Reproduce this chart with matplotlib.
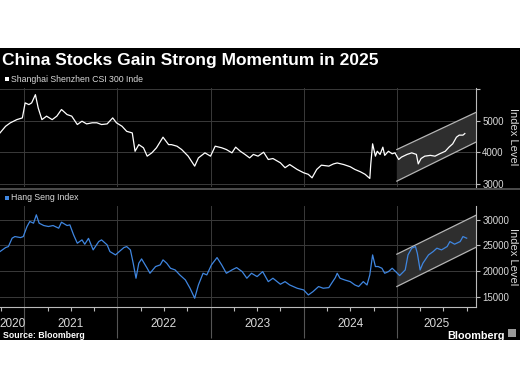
import matplotlib
matplotlib.use("Agg")
import matplotlib.pyplot as plt
from matplotlib.patches import Rectangle, Polygon
from matplotlib.lines import Line2D
from matplotlib.ticker import FixedLocator

plt.rcParams["font.family"] = ["Liberation Sans", "DejaVu Sans"]

# ---- data (decimal year, index level) ----
csi_t = [2020.74, 2020.80, 2020.85, 2020.92, 2020.98, 2021.01, 2021.05, 2021.08, 2021.12, 2021.15,
         2021.19, 2021.24, 2021.30, 2021.35, 2021.40, 2021.46, 2021.51, 2021.57, 2021.62, 2021.67,
         2021.73, 2021.78, 2021.83, 2021.89, 2021.95, 2021.99, 2022.05, 2022.10, 2022.16, 2022.19,
         2022.23, 2022.28, 2022.32, 2022.37, 2022.42, 2022.49, 2022.55, 2022.58, 2022.64, 2022.69,
         2022.76, 2022.83, 2022.87, 2022.94, 2023.00, 2023.05, 2023.12, 2023.17, 2023.23, 2023.27,
         2023.32, 2023.37, 2023.42, 2023.46, 2023.51, 2023.57, 2023.62, 2023.67, 2023.75, 2023.80,
         2023.85, 2023.93, 2024.00, 2024.05, 2024.09, 2024.14, 2024.19, 2024.27, 2024.32, 2024.36,
         2024.43, 2024.50, 2024.55, 2024.61, 2024.66, 2024.71, 2024.72, 2024.74, 2024.77, 2024.79,
         2024.82, 2024.85, 2024.87, 2024.91, 2024.95, 2024.98, 2025.02, 2025.05, 2025.11, 2025.16,
         2025.21, 2025.23, 2025.26, 2025.30, 2025.36, 2025.41, 2025.46, 2025.52, 2025.56, 2025.60,
         2025.64, 2025.67, 2025.71, 2025.73]
csi_v = [4610, 4820, 4927, 5030, 5085, 5560, 5505, 5560, 5820, 5400,
         5030, 5140, 5030, 5140, 5350, 5190, 5140, 4875, 4980, 4895,
         4930, 4930, 4875, 4895, 5085, 4930, 4820, 4660, 4610, 4030,
         4240, 4140, 3875, 3980, 4140, 4475, 4240, 4240, 4190, 4085,
         3875, 3560, 3820, 3980, 3875, 4190, 4140, 4085, 3980, 4160,
         4030, 3930, 3820, 3930, 3875, 4000, 3770, 3800, 3665, 3510,
         3610, 3455, 3350, 3300, 3190, 3455, 3590, 3560, 3630, 3660,
         3610, 3540, 3455, 3380, 3300, 3170, 3610, 4265, 3875, 4030,
         3930, 4160, 3900, 4030, 3950, 3980, 3770, 3845, 3930, 3980,
         3930, 3630, 3800, 3875, 3900, 3875, 3950, 4030, 4160, 4265,
         4475, 4540, 4540, 4590]

hsi_t = [2020.74, 2020.80, 2020.83, 2020.87, 2020.90, 2020.96, 2020.99, 2021.03, 2021.06, 2021.10,
         2021.13, 2021.16, 2021.21, 2021.26, 2021.31, 2021.37, 2021.40, 2021.46, 2021.49, 2021.53,
         2021.57, 2021.62, 2021.65, 2021.69, 2021.74, 2021.80, 2021.83, 2021.89, 2021.92, 2021.98,
         2022.02, 2022.07, 2022.10, 2022.14, 2022.17, 2022.20, 2022.23, 2022.26, 2022.32, 2022.35,
         2022.41, 2022.46, 2022.49, 2022.53, 2022.57, 2022.62, 2022.67, 2022.73, 2022.78, 2022.83,
         2022.87, 2022.92, 2022.96, 2023.01, 2023.07, 2023.12, 2023.17, 2023.23, 2023.28, 2023.34,
         2023.39, 2023.44, 2023.50, 2023.56, 2023.62, 2023.67, 2023.75, 2023.80, 2023.85, 2023.93,
         2024.00, 2024.05, 2024.10, 2024.16, 2024.21, 2024.27, 2024.30, 2024.34, 2024.36, 2024.39,
         2024.44, 2024.50, 2024.55, 2024.59, 2024.64, 2024.68, 2024.71, 2024.74, 2024.77, 2024.80,
         2024.84, 2024.87, 2024.91, 2024.95, 2024.98, 2025.03, 2025.09, 2025.12, 2025.16, 2025.20,
         2025.22, 2025.25, 2025.28, 2025.34, 2025.39, 2025.43, 2025.48, 2025.54, 2025.57, 2025.62,
         2025.68, 2025.71, 2025.75]
hsi_v = [23810, 24590, 24790, 26420, 26740, 26540, 26740, 28700, 29680, 29350,
         30980, 29350, 28890, 28700, 28890, 28370, 29540, 28890, 29020, 27070,
         25440, 26090, 25240, 26390, 24140, 25760, 26090, 25120, 23810, 23160,
         23810, 24590, 24790, 24140, 21540, 18610, 21540, 22380, 20560, 19580,
         20890, 21210, 22190, 21540, 20560, 20230, 19260, 18280, 16660, 14710,
         17300, 19580, 19260, 21210, 22640, 21210, 19580, 20230, 20690, 19900,
         18610, 19580, 18930, 19900, 17950, 18610, 17440, 17950, 17300, 16660,
         16330, 15350, 16000, 16990, 16660, 16780, 17630, 18730, 19580, 18610,
         18280, 17950, 17300, 16990, 17950, 17300, 19260, 23160, 20890, 20890,
         20560, 19580, 19900, 20560, 20040, 19130, 20230, 23160, 24470, 24790,
         23490, 20230, 21540, 23160, 23810, 24470, 24140, 24790, 25760, 25250,
         25760, 26740, 26420]

# trend channels for 2025
band_t = [2025.0, 2025.85]
csi_upper = [4085, 5260]
csi_lower = [3085, 4320]
hsi_upper = [23300, 30900]
hsi_lower = [16990, 24650]

csi_ticks = [3000, 4000, 5000, 6000]
hsi_ticks = [15000, 20000, 25000, 30000]
years = [2021, 2022, 2023, 2024, 2025]
year_labels = ["2020", "2021", "2022", "2023", "2024", "2025"]

x0, x1 = 2020.74, 2025.85
grid_c = "#3a3a3a"
txt_c = "#d9d9d9"
blue = "#3f86e0"

fig = plt.figure(figsize=(5.2, 3.9), dpi=100, facecolor="white")
fig.patches.append(Rectangle((0, 1 - 340 / 390), 1, (340 - 48) / 390,
                             transform=fig.transFigure, facecolor="black", zorder=-10))

ax1 = fig.add_axes([0, 1 - 187 / 390, 476 / 520, 99 / 390])
ax2 = fig.add_axes([0, 1 - 307 / 390, 476 / 520, 101 / 390])


def style(ax, ylim, ticks, labels):
    ax.set_facecolor("none")
    ax.set_xlim(x0, x1)
    ax.set_ylim(*ylim)
    for s in ["top", "left", "bottom"]:
        ax.spines[s].set_visible(False)
    ax.spines["right"].set_color("#bbbbbb")
    ax.spines["right"].set_linewidth(0.8)
    ax.yaxis.tick_right()
    ax.set_yticks(ticks)
    ax.set_yticklabels(labels)
    ax.tick_params(axis="y", colors="#bbbbbb", labelcolor=txt_c, labelsize=7,
                   length=3, width=0.8, pad=1.5)
    for v in ticks:
        ax.axhline(v, color=grid_c, lw=0.7, zorder=0)
    for yr in years:
        ax.axvline(yr, color=grid_c, lw=0.7, zorder=0)


# ---- top panel: CSI 300 ----
style(ax1, (2900, 6030), csi_ticks, ["3000", "4000", "5000", ""])
ax1.set_xticks([])
ax1.add_patch(Polygon([(band_t[0], csi_lower[0]), (band_t[1], csi_lower[1]),
                       (band_t[1], csi_upper[1]), (band_t[0], csi_upper[0])],
                      closed=True, facecolor="#2e2e2e", edgecolor="none", zorder=1))
ax1.plot(band_t, csi_upper, color="#b5b5b5", lw=0.9, zorder=2)
ax1.plot(band_t, csi_lower, color="#b5b5b5", lw=0.9, zorder=2)
ax1.plot(csi_t, csi_v, color="white", lw=0.9, zorder=3)

# ---- bottom panel: Hang Seng ----
style(ax2, (13000, 32700), hsi_ticks, [str(v) for v in hsi_ticks])
ax2.add_patch(Polygon([(band_t[0], hsi_lower[0]), (band_t[1], hsi_lower[1]),
                       (band_t[1], hsi_upper[1]), (band_t[0], hsi_upper[0])],
                      closed=True, facecolor="#2e2e2e", edgecolor="none", zorder=1))
ax2.plot(band_t, hsi_upper, color="#b5b5b5", lw=0.9, zorder=2)
ax2.plot(band_t, hsi_lower, color="#b5b5b5", lw=0.9, zorder=2)
ax2.plot(hsi_t, hsi_v, color=blue, lw=0.9, zorder=3)

ax2.spines["bottom"].set_visible(True)
ax2.spines["bottom"].set_color("#bbbbbb")
ax2.spines["bottom"].set_linewidth(0.8)
ax2.set_xticks(years)
ax2.set_xticklabels([])
ax2.tick_params(axis="x", which="major", colors="#555555", length=22, width=0.8)
quarters = [y + q for y in [2020] + years for q in (0.25, 0.5, 0.75)]
ax2.xaxis.set_minor_locator(FixedLocator([q for q in quarters if x0 < q < x1]))
ax2.tick_params(axis="x", which="minor", colors="#bbbbbb", length=3, width=0.8)

edges = [x0] + years + [x1]
for i, lab in enumerate(year_labels):
    xc = (edges[i] + edges[i + 1]) / 2
    ax2.text(xc, -0.17, lab, transform=ax2.get_xaxis_transform(), ha="center",
             va="center", color=txt_c, fontsize=8.5)

# ---- figure text ----
fig.text(2 / 520, 1 - 60 / 390, "China Stocks Gain Strong Momentum in 2025", color="white",
         fontsize=12.5, fontweight="bold", va="center", ha="left")
fig.patches.append(Rectangle((5 / 520, 1 - 81 / 390), 4 / 520, 4 / 390,
                             transform=fig.transFigure, facecolor="white"))
fig.text(11 / 520, 1 - 79 / 390, "Shanghai Shenzhen CSI 300 Inde", color=txt_c,
         fontsize=6.3, va="center", ha="left")
fig.patches.append(Rectangle((5 / 520, 1 - 200 / 390), 4 / 520, 4 / 390,
                             transform=fig.transFigure, facecolor=blue))
fig.text(11 / 520, 1 - 198 / 390, "Hang Seng Index", color=txt_c,
         fontsize=6.3, va="center", ha="left")
fig.lines.append(Line2D([0, 1], [1 - 189 / 390] * 2, transform=fig.transFigure,
                        color="#5a5a5a", lw=1.2))

# rotated axis titles on the right
fig.text(513 / 520, 1 - 137 / 390, "Index Level", color=txt_c, fontsize=8,
         rotation=270, va="center", ha="center")
fig.text(513 / 520, 1 - 257 / 390, "Index Level", color=txt_c, fontsize=8,
         rotation=270, va="center", ha="center")

fig.text(3 / 520, 1 - 336 / 390, "Source: Bloomberg", color="white", fontsize=6.3,
         fontweight="bold", va="center", ha="left")
fig.text(505 / 520, 1 - 336 / 390, "Bloomberg", color="white", fontsize=7.8,
         fontweight="bold", va="center", ha="right")
fig.patches.append(Rectangle((508 / 520, 1 - 340 / 390 + 3 / 390), 8 / 520, 8 / 390,
                             transform=fig.transFigure, facecolor="#9a9a9a"))

fig.savefig("out.png", dpi=100, facecolor="white")
